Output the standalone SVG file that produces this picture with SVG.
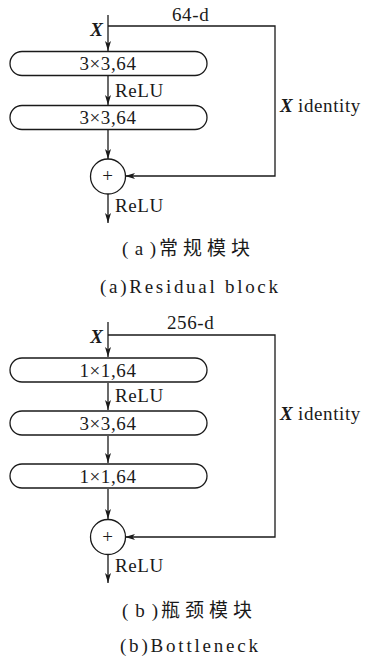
<svg xmlns="http://www.w3.org/2000/svg" width="368" height="660" viewBox="0 0 368 660">
  <style>
    .ln { fill: none; stroke: #1a1a1a; stroke-width: 1.3; }
    .box { fill: #fff; stroke: #1a1a1a; stroke-width: 1.3; }
    .t { font-family: "Liberation Serif", "DejaVu Serif", "Times New Roman", serif; font-size: 19px; letter-spacing: 0.6px; fill: #1a1a1a; }
    .c { text-anchor: middle; }
    .x { font-weight: bold; font-style: italic; font-size: 19px; letter-spacing: 0; }
    .cap { font-family: "Liberation Serif", "Noto Sans CJK SC", serif; font-size: 19px; fill: #1a1a1a; }
  </style>
  <defs>
    <marker id="arr" viewBox="0 0 10 6" refX="10" refY="3" markerWidth="10" markerHeight="6" markerUnits="userSpaceOnUse" orient="auto">
      <path d="M0,0 L10,3 L0,6 L2.5,3 Z" fill="#1a1a1a"/>
    </marker>
  </defs>

  <rect width="368" height="660" fill="#fff"/>

  <!-- (a) residual block -->
  <g id="connectors-a">
    <path class="ln" d="M108,15 V51" marker-end="url(#arr)"/>
    <path class="ln" d="M108,76 V105" marker-end="url(#arr)"/>
    <path class="ln" d="M108,130 V159" marker-end="url(#arr)"/>
    <path class="ln" d="M108,26 H275 V176 H125" marker-end="url(#arr)"/>
    <path class="ln" d="M108,194 V223" marker-end="url(#arr)"/>
  </g>
  <g id="a-input">
    <text class="t x" x="103" y="36" text-anchor="end">X</text>
    <text class="t" x="172" y="21">64-d</text>
  </g>
  <g id="a-conv1">
    <rect class="box" x="10" y="51.5" width="197" height="24" rx="12"/>
    <text class="t c" x="108" y="70">3×3,64</text>
  </g>
  <g id="a-relu1"><text class="t" x="115" y="97">ReLU</text></g>
  <g id="a-conv2">
    <rect class="box" x="10" y="105.5" width="197" height="24" rx="12"/>
    <text class="t c" x="108" y="124">3×3,64</text>
  </g>
  <g id="a-identity">
    <text class="t" x="280" y="112"><tspan class="x">X</tspan> identity</text>
  </g>
  <g id="a-add">
    <circle class="box" cx="108" cy="176.5" r="17.5"/>
    <text class="t c" x="108" y="182" font-size="17" letter-spacing="0">+</text>
  </g>
  <g id="a-relu2"><text class="t" x="115" y="212">ReLU</text></g>
  <g id="a-caption">
    <text class="cap" y="255"><tspan x="122" textLength="34" lengthAdjust="spacing">(a)</tspan><tspan x="159" textLength="91" lengthAdjust="spacing">常规模块</tspan></text>
    <text class="cap" x="100" y="293" textLength="178" lengthAdjust="spacing">(a)Residual block</text>
  </g>

  <!-- (b) bottleneck -->
  <g id="connectors-b">
    <path class="ln" d="M108,322 V357" marker-end="url(#arr)"/>
    <path class="ln" d="M108,383 V410" marker-end="url(#arr)"/>
    <path class="ln" d="M108,436 V463" marker-end="url(#arr)"/>
    <path class="ln" d="M108,489 V519" marker-end="url(#arr)"/>
    <path class="ln" d="M108,335 H275 V537 H125" marker-end="url(#arr)"/>
    <path class="ln" d="M108,555 V583" marker-end="url(#arr)"/>
  </g>
  <g id="b-input">
    <text class="t x" x="103" y="343" text-anchor="end">X</text>
    <text class="t" x="167" y="329">256-d</text>
  </g>
  <g id="b-conv1">
    <rect class="box" x="10" y="358" width="197" height="24" rx="12"/>
    <text class="t c" x="108" y="376.5">1×1,64</text>
  </g>
  <g id="b-relu1"><text class="t" x="115" y="402">ReLU</text></g>
  <g id="b-conv2">
    <rect class="box" x="10" y="411" width="197" height="24" rx="12"/>
    <text class="t c" x="108" y="429.5">3×3,64</text>
  </g>
  <g id="b-conv3">
    <rect class="box" x="10" y="464" width="197" height="24" rx="12"/>
    <text class="t c" x="108" y="482.5">1×1,64</text>
  </g>
  <g id="b-identity">
    <text class="t" x="280" y="420"><tspan class="x">X</tspan> identity</text>
  </g>
  <g id="b-add">
    <circle class="box" cx="108" cy="537" r="17.5"/>
    <text class="t c" x="108" y="542.5" font-size="17" letter-spacing="0">+</text>
  </g>
  <g id="b-relu2"><text class="t" x="115" y="572">ReLU</text></g>
  <g id="b-caption">
    <text class="cap" y="617"><tspan x="122" textLength="36" lengthAdjust="spacing">(b)</tspan><tspan x="161" textLength="91" lengthAdjust="spacing">瓶颈模块</tspan></text>
    <text class="cap" x="120" y="652" textLength="138" lengthAdjust="spacing">(b)Bottleneck</text>
  </g>
</svg>
